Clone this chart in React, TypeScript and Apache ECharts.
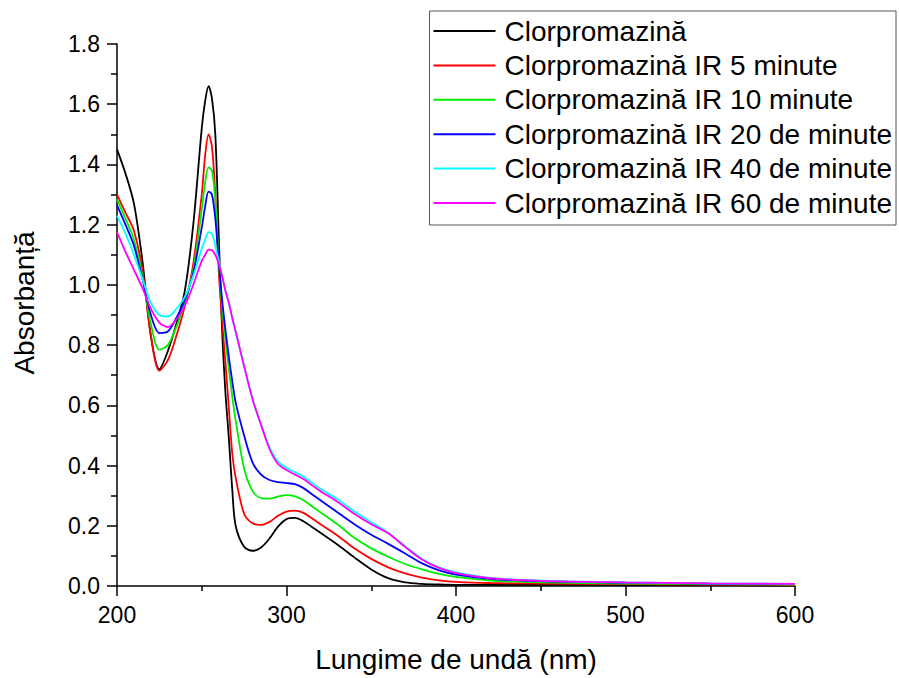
import React, { useEffect, useRef } from "react";
import * as echarts from "echarts";

const wavelengths = [200, 205, 210, 215, 220, 225, 230, 235, 240, 245, 250, 252, 254, 256, 258, 260, 262, 264, 266, 268, 270, 275, 280, 285, 290, 295, 300, 305, 310, 315, 320, 330, 340, 350, 360, 370, 380, 390, 400, 420, 450, 500, 550, 600];

const seriesNames = [
  "Clorpromazină",
  "Clorpromazină IR 5 minute",
  "Clorpromazină IR 10 minute",
  "Clorpromazină IR 20 de minute",
  "Clorpromazină IR 40 de minute",
  "Clorpromazină IR 60 de minute",
];

const seriesColors = ["#000000", "#ff0000", "#00ee00", "#0000ff", "#00ffff", "#ff00ff"];

const black = [1.45, 1.37, 1.27, 1.08, 0.83, 0.72, 0.78, 0.87, 0.98, 1.2, 1.52, 1.61, 1.66, 1.62, 1.5, 1.17, 0.85, 0.64, 0.49, 0.32, 0.2, 0.13, 0.117, 0.128, 0.158, 0.197, 0.222, 0.226, 0.215, 0.196, 0.177, 0.138, 0.095, 0.055, 0.026, 0.012, 0.007, 0.005, 0.004, 0.004, 0.004, 0.003, 0.003, 0.002];
const red = [1.3, 1.24, 1.18, 1.05, 0.83, 0.715, 0.75, 0.83, 0.93, 1.07, 1.3, 1.43, 1.5, 1.46, 1.3, 1.05, 0.88, 0.74, 0.59, 0.44, 0.36, 0.24, 0.208, 0.203, 0.213, 0.233, 0.247, 0.25, 0.243, 0.225, 0.205, 0.168, 0.125, 0.09, 0.062, 0.042, 0.028, 0.019, 0.014, 0.01, 0.008, 0.006, 0.005, 0.004];
const green = [1.285, 1.22, 1.15, 1.03, 0.87, 0.785, 0.8, 0.86, 0.94, 1.05, 1.25, 1.34, 1.39, 1.38, 1.28, 1.08, 0.93, 0.82, 0.72, 0.63, 0.55, 0.39, 0.315, 0.292, 0.29, 0.297, 0.302, 0.298, 0.285, 0.265, 0.245, 0.205, 0.16, 0.125, 0.097, 0.073, 0.055, 0.04, 0.03, 0.018, 0.012, 0.008, 0.006, 0.005];
const blue = [1.265, 1.2, 1.13, 1.02, 0.9, 0.84, 0.845, 0.89, 0.95, 1.04, 1.19, 1.26, 1.31, 1.3, 1.22, 1.08, 0.95, 0.85, 0.76, 0.68, 0.61, 0.5, 0.41, 0.37, 0.352, 0.345, 0.342, 0.338, 0.325, 0.305, 0.285, 0.245, 0.205, 0.17, 0.14, 0.108, 0.075, 0.052, 0.038, 0.024, 0.016, 0.011, 0.008, 0.006];
const cyan = [1.23, 1.17, 1.1, 1.02, 0.94, 0.9, 0.895, 0.92, 0.96, 1.03, 1.12, 1.15, 1.175, 1.17, 1.13, 1.08, 1.03, 0.98, 0.94, 0.89, 0.845, 0.73, 0.62, 0.535, 0.46, 0.413, 0.393, 0.378, 0.363, 0.343, 0.323, 0.288, 0.248, 0.212, 0.177, 0.132, 0.09, 0.062, 0.045, 0.027, 0.018, 0.012, 0.009, 0.007];
const magenta = [1.175, 1.11, 1.05, 0.99, 0.92, 0.875, 0.86, 0.885, 0.93, 1.0, 1.08, 1.1, 1.117, 1.115, 1.1, 1.07, 1.03, 0.98, 0.94, 0.89, 0.845, 0.73, 0.62, 0.535, 0.455, 0.405, 0.385, 0.37, 0.355, 0.335, 0.315, 0.28, 0.24, 0.205, 0.175, 0.13, 0.088, 0.06, 0.043, 0.026, 0.017, 0.012, 0.009, 0.007];

const allValues = [black, red, green, blue, cyan, magenta];

const FONT = "Liberation Sans, Arial, sans-serif";

export default function App() {
  const ref = useRef<HTMLDivElement>(null);
  useEffect(() => {
    if (!ref.current) return;
    const chart = echarts.init(ref.current, undefined, { renderer: "svg" });
    chart.setOption({
      animation: false,
      backgroundColor: "#ffffff",
      grid: { left: 117, right: 104, top: 44, bottom: 90 },
      legend: {
        orient: "vertical",
        right: 3,
        top: 11,
        icon: "rect",
        itemWidth: 62,
        itemHeight: 2,
        itemGap: 4.4,
        padding: [5, 4, 7, 4],
        borderColor: "#555",
        borderWidth: 1,
        backgroundColor: "#fff",
        textStyle: { fontFamily: FONT, fontSize: 28, color: "#000", lineHeight: 30, padding: [0, 0, 0, 4] },
        data: seriesNames,
      },
      xAxis: {
        type: "value",
        min: 200,
        max: 600,
        interval: 100,
        name: "Lungime de undă (nm)",
        nameLocation: "middle",
        nameGap: 59,
        nameTextStyle: { fontFamily: FONT, fontSize: 28, color: "#000" },
        axisLine: { onZero: false, lineStyle: { color: "#000", width: 1.5 } },
        axisTick: { inside: false, length: 10, lineStyle: { color: "#000", width: 1.5 } },
        minorTick: { show: true, splitNumber: 2, length: 5, lineStyle: { color: "#000", width: 1.5 } },
        axisLabel: { fontFamily: FONT, fontSize: 23, color: "#000", margin: 17 },
        splitLine: { show: false },
      },
      yAxis: {
        type: "value",
        min: 0,
        max: 1.8,
        interval: 0.2,
        axisLine: { show: true, onZero: false, lineStyle: { color: "#000", width: 1.5 } },
        axisTick: { show: true, inside: false, length: 10, lineStyle: { color: "#000", width: 1.5 } },
        minorTick: { show: true, splitNumber: 2, length: 6, lineStyle: { color: "#000", width: 1.5 } },
        axisLabel: {
          fontFamily: FONT,
          fontSize: 23,
          color: "#000",
          margin: 17,
          formatter: (v: number) => v.toFixed(1),
        },
        splitLine: { show: false },
      },
      graphic: [
        {
          type: "text",
          x: 24,
          y: 303,
          rotation: Math.PI / 2,
          style: {
            text: "Absorbanță",
            fontFamily: FONT,
            fontSize: 28,
            fill: "#000",
            align: "center",
            verticalAlign: "middle",
          },
        },
      ],
      series: seriesNames.map((name, i) => ({
        name,
        type: "line",
        symbol: "none",
        smooth: 0.3,
        lineStyle: { color: seriesColors[i], width: 1.8 },
        itemStyle: { color: seriesColors[i] },
        data: wavelengths.map((w, j) => [w, allValues[i][j]]),
      })),
    });
    return () => chart.dispose();
  }, []);
  return (
    <div
      ref={ref}
      style={{ position: "absolute", left: 0, top: 0, width: 899, height: 678 }}
    />
  );
}
